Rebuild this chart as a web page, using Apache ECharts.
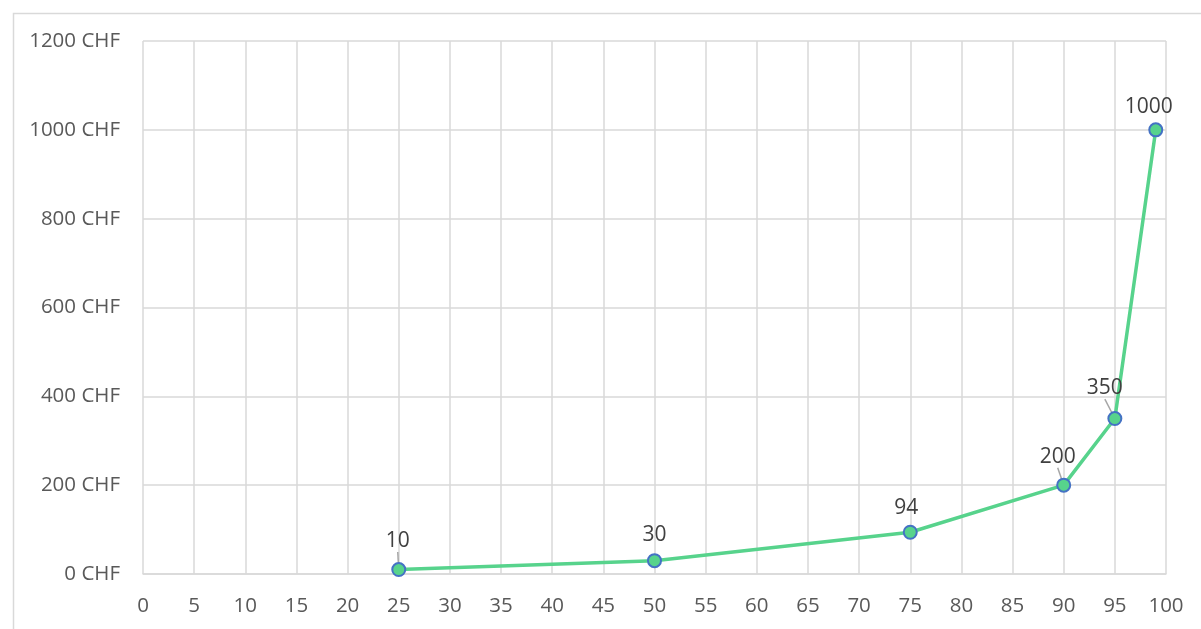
<!DOCTYPE html>
<html>
<head>
<meta charset="utf-8">
<script src="https://cdn.jsdelivr.net/npm/echarts@6/dist/echarts.min.js"></script>
<style>
  html, body { margin: 0; padding: 0; background: #fff; }
  #chart { width: 1201px; height: 629px; }
</style>
</head>
<body>
<div id="chart"></div>
<script>
const percentiles = [25, 50, 75, 90, 95, 99]
const amounts = [10, 30, 94, 200, 350, 1000]
// label shifts (dx, dy) relative to the default 'top' placement, and which get a leader line
const labelShift = [[-1, -5], [0, -2], [-4, -1], [-6, -5], [-10, -7], [-7, 1]]
const showLeader = [true, false, false, true, true, false]

const chart = echarts.init(document.getElementById('chart'))
const gridColor = '#d9d9d9'
const fontFamily = 'Open Sans, Noto Sans, sans-serif'

chart.setOption({
  animation: false,
  graphic: [
    {
      type: 'rect',
      left: 11,
      top: 11,
      shape: { width: 1200, height: 630 },
      style: { fill: 'none', stroke: gridColor, lineWidth: 1.5 },
      silent: true,
    },
  ],
  grid: { left: 143, right: 35, top: 41, bottom: 55 },
  xAxis: {
    type: 'value',
    min: 0,
    max: 100,
    interval: 5,
    axisLine: { show: true, lineStyle: { color: gridColor, width: 1.5 } },
    axisTick: { show: false },
    axisLabel: { color: '#595959', fontSize: 20.5, fontFamily, margin: 22 },
    splitLine: { show: true, lineStyle: { color: gridColor, width: 1.5 } },
  },
  yAxis: {
    type: 'value',
    min: 0,
    max: 1200,
    interval: 200,
    axisLine: { show: false },
    axisTick: { show: false },
    axisLabel: {
      color: '#595959',
      fontSize: 20.5,
      fontFamily,
      margin: 23,
      formatter: (v) => v + ' CHF',
    },
    splitLine: { show: true, lineStyle: { color: gridColor, width: 1.5 } },
  },
  series: [
    {
      type: 'line',
      data: percentiles.map((p, i) => ({
        value: [p, amounts[i]],
        labelLine: { show: showLeader[i] },
      })),
      symbol: 'circle',
      symbolSize: 13,
      lineStyle: { color: '#57d38c', width: 3.5 },
      itemStyle: { color: '#57d38c', borderColor: '#4472c4', borderWidth: 2 },
      label: {
        show: true,
        position: 'top',
        distance: 5,
        color: '#404040',
        fontSize: 21,
        lineHeight: 22,
        fontFamily,
        formatter: (p) => p.value[1],
      },
      labelLine: { show: true, lineStyle: { color: '#a6a6a6', width: 1.5 } },
      labelLayout: (params) => {
        const s = labelShift[params.dataIndex]
        return { dx: s[0], dy: s[1] }
      },
    },
  ],
})
</script>
</body>
</html>
